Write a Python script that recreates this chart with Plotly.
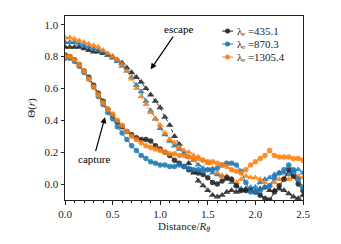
import plotly.graph_objects as go

distance = [round(0.05 * i, 2) for i in range(51)]

labels = ["λₑ =435.1", "λₑ =870.3", "λₑ =1305.4"]
colors = ["#222222", "#1f77b4", "#ff7f0e"]

capture_435 = [0.81, 0.80, 0.78, 0.75, 0.71, 0.67, 0.62, 0.57, 0.52, 0.47,
               0.43, 0.39, 0.36, 0.33, 0.31, 0.29, 0.28, 0.28, 0.27, 0.24,
               0.22, 0.20, 0.18, 0.15, 0.13, 0.11, 0.09, 0.08, 0.07, 0.06,
               0.04, 0.01, 0.00, 0.02, 0.04, 0.03, -0.01, -0.04, -0.04, -0.04,
               -0.05, -0.07, -0.09, -0.10, -0.05, -0.01, 0.03, 0.09, 0.05, 0.00,
               -0.04]
capture_870 = [0.79, 0.79, 0.77, 0.74, 0.70, 0.66, 0.61, 0.55, 0.50, 0.45,
               0.41, 0.36, 0.32, 0.28, 0.24, 0.21, 0.18, 0.16, 0.14, 0.13,
               0.12, 0.12, 0.11, 0.11, 0.12, 0.11, 0.10, 0.09, 0.09, 0.08,
               0.09, 0.09, 0.10, 0.12, 0.13, 0.13, 0.12, 0.08, 0.01, -0.05,
               -0.05, -0.04, -0.02, -0.01, 0.04, 0.07, 0.09, 0.12, 0.09, 0.03,
               -0.02]
capture_1305 = [0.80, 0.80, 0.78, 0.75, 0.71, 0.66, 0.61, 0.56, 0.51, 0.47,
                0.44, 0.40, 0.37, 0.33, 0.30, 0.28, 0.26, 0.24, 0.23, 0.22,
                0.21, 0.20, 0.19, 0.19, 0.18, 0.18, 0.17, 0.16, 0.16, 0.15,
                0.14, 0.14, 0.13, 0.12, 0.11, 0.09, 0.08, 0.07, 0.09, 0.12,
                0.14, 0.16, 0.18, 0.21, 0.18, 0.17, 0.17, 0.17, 0.16, 0.16,
                0.15]

escape_435 = [0.86, 0.86, 0.86, 0.86, 0.85, 0.84, 0.83, 0.83, 0.82, 0.81,
              0.80, 0.78, 0.76, 0.73, 0.70, 0.67, 0.64, 0.60, 0.56, 0.52,
              0.48, 0.42, 0.37, 0.30, 0.25, 0.19, 0.13, 0.07, 0.02, -0.01,
              -0.04, -0.07, -0.08, -0.07, -0.05, -0.04, -0.05, -0.04, -0.03, -0.04,
              -0.05, -0.03, -0.02, -0.04, -0.04, -0.03, -0.04, -0.06, -0.08, -0.09,
              -0.07]
escape_870 = [0.89, 0.89, 0.89, 0.88, 0.87, 0.86, 0.85, 0.84, 0.83, 0.81,
              0.79, 0.77, 0.74, 0.71, 0.67, 0.62, 0.58, 0.52, 0.46, 0.41,
              0.35, 0.31, 0.27, 0.24, 0.22, 0.19, 0.17, 0.15, 0.12, 0.10,
              0.09, 0.07, 0.06, 0.05, 0.03, 0.01, -0.01, -0.03, -0.04, -0.02,
              -0.02, 0.01, 0.03, 0.04, 0.06, 0.07, 0.07, 0.06, 0.08, 0.09,
              0.07]
escape_1305 = [0.92, 0.92, 0.91, 0.90, 0.89, 0.88, 0.87, 0.86, 0.84, 0.82,
               0.80, 0.78, 0.75, 0.71, 0.66, 0.60, 0.55, 0.50, 0.45, 0.41,
               0.37, 0.32, 0.28, 0.26, 0.23, 0.21, 0.20, 0.18, 0.17, 0.15,
               0.13, 0.10, 0.07, 0.05, 0.05, 0.03, 0.01, 0.03, 0.05, 0.04,
               0.04, 0.03, 0.01, -0.01, 0.01, 0.03, 0.04, 0.03, 0.04, 0.05,
               0.04]

capture = [capture_435, capture_870, capture_1305]
escape = [escape_435, escape_870, escape_1305]

FONT = "Liberation Serif, DejaVu Serif, serif"
INK = "#222222"

fig = go.Figure()
for lab, col, ys in zip(labels, colors, escape):
    fig.add_trace(go.Scatter(
        x=distance, y=ys, mode="lines+markers", showlegend=False,
        line=dict(color=col, width=1, dash="dot"),
        marker=dict(symbol="triangle-up", size=6.5, color=col, opacity=0.85,
                    line=dict(width=0)),
        cliponaxis=True))
for lab, col, ys in zip(labels, colors, capture):
    fig.add_trace(go.Scatter(
        x=distance, y=ys, mode="lines+markers", name=lab, showlegend=False,
        line=dict(color=col, width=1),
        marker=dict(symbol="circle", size=5.5, color=col, opacity=0.85,
                    line=dict(width=0)),
        cliponaxis=True))

# compact legend (matplotlib-like spacing), drawn in paper coordinates
LEG_X0, LEG_X1, LEG_TX = 0.660, 0.706, 0.714
LEG_Y0, LEG_DY = 0.918, 0.0706
RX, RY = 0.0105, 0.0136
for i, (lab, col) in enumerate(zip(labels, colors)):
    yy = LEG_Y0 - i * LEG_DY
    fig.add_shape(type="line", xref="paper", yref="paper",
                  x0=LEG_X0, x1=LEG_X1, y0=yy, y1=yy,
                  line=dict(color=col, width=1))
    xc = (LEG_X0 + LEG_X1) / 2
    fig.add_shape(type="circle", xref="paper", yref="paper",
                  x0=xc - RX, x1=xc + RX, y0=yy - RY, y1=yy + RY,
                  fillcolor=col, line=dict(width=0), opacity=0.9)
    fig.add_annotation(xref="paper", yref="paper", x=LEG_TX, y=yy,
                       xanchor="left", yanchor="middle", text=lab,
                       showarrow=False,
                       font=dict(family=FONT, size=11, color=INK))

# labelled arrows: text sits at the arrow tail, head points at the curves
fig.add_annotation(x=0.90, y=0.72, ax=1.19, ay=0.973, xref="x", yref="y",
                   axref="x", ayref="y", text="escape", showarrow=True,
                   arrowhead=2, arrowsize=1, arrowwidth=1.2, arrowcolor="black",
                   standoff=0,
                   font=dict(family=FONT, size=11, color="black"))
fig.add_annotation(x=0.42, y=0.42, ax=0.30, ay=0.16, xref="x", yref="y",
                   axref="x", ayref="y", text="capture", showarrow=True,
                   arrowhead=2, arrowsize=1, arrowwidth=1.2, arrowcolor="black",
                   standoff=0,
                   font=dict(family=FONT, size=11, color="black"))

axis_common = dict(showline=True, linecolor=INK, linewidth=1, mirror=True,
                   ticks="outside", ticklen=3.5, tickwidth=1, tickcolor=INK,
                   showgrid=False, zeroline=False,
                   tickfont=dict(family=FONT, size=11, color=INK))

fig.update_xaxes(range=[0, 2.5], tickvals=[0, 0.5, 1.0, 1.5, 2.0, 2.5],
                 ticktext=["0.0", "0.5", "1.0", "1.5", "2.0", "2.5"],
                 minor=dict(ticks="outside", ticklen=2, dtick=0.1, tickcolor=INK),
                 title=dict(text="Distance/<i>R</i><sub><i>θ</i></sub>", standoff=0,
                            font=dict(family=FONT, size=11, color=INK)),
                 **axis_common)
fig.update_yaxes(range=[-0.1, 1.055], tickvals=[0, 0.2, 0.4, 0.6, 0.8, 1.0],
                 ticktext=["0.0", "0.2", "0.4", "0.6", "0.8", "1.0"],
                 title=dict(text="Θ(<i>r</i>)", standoff=6,
                            font=dict(family=FONT, size=11, color=INK)),
                 **axis_common)

fig.update_layout(
    width=341, height=244,
    margin=dict(l=65, r=38, t=16, b=44),
    paper_bgcolor="white", plot_bgcolor="white",
    font=dict(family=FONT, color=INK),
    showlegend=False,
)

fig.write_html("out.html",
               config={"displayModeBar": False},
               post_script="document.body.style.margin='0px';document.body.style.padding='0px';")
